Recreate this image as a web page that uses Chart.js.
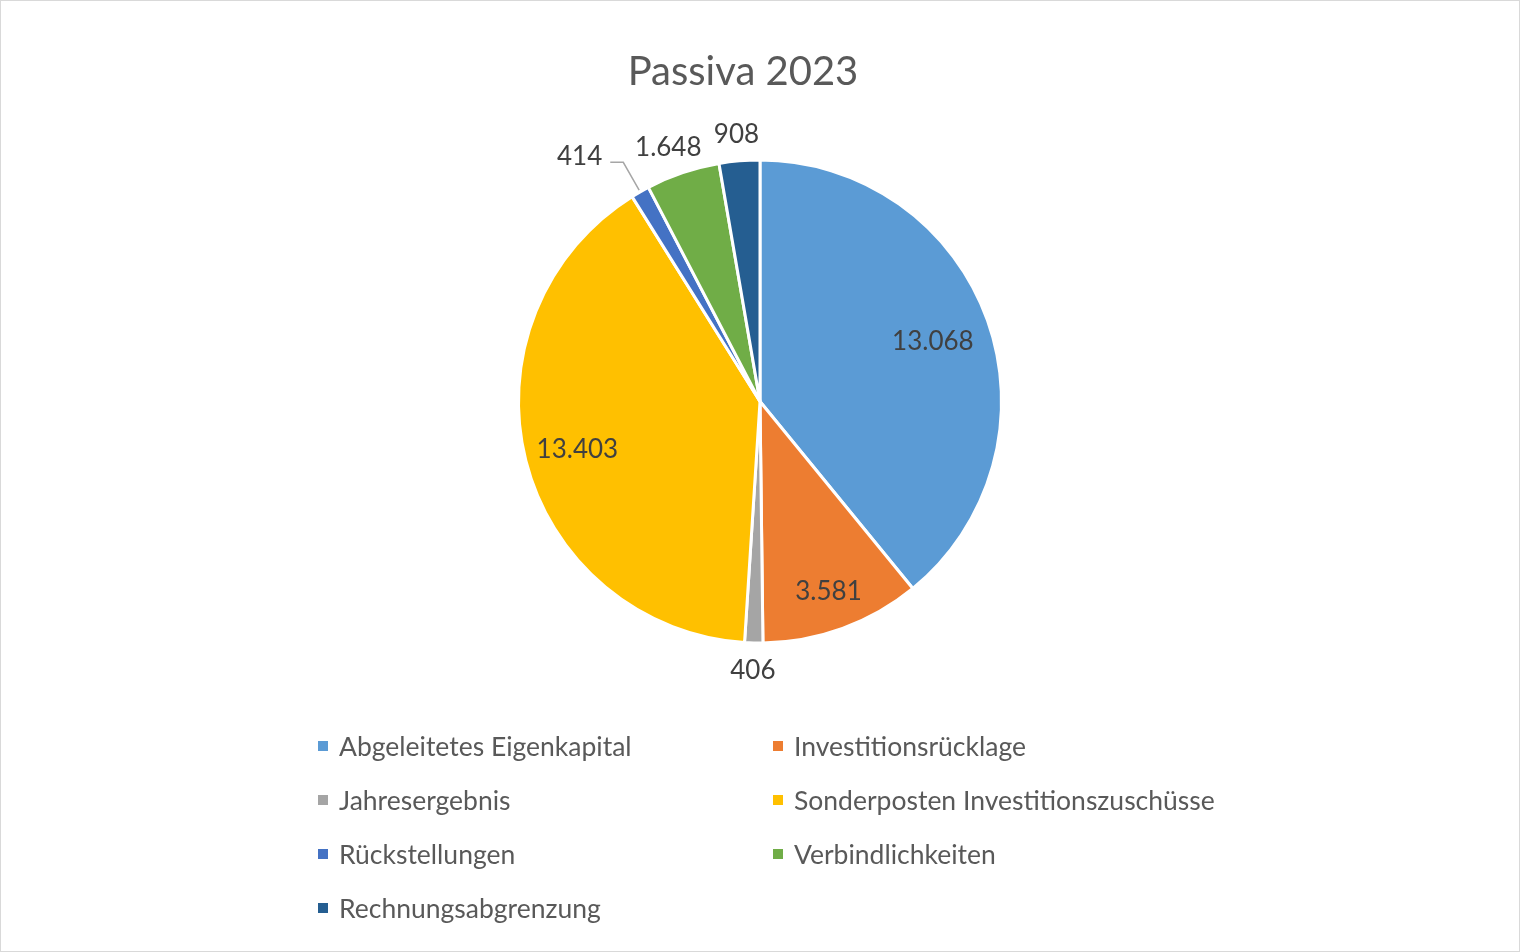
<!DOCTYPE html>
<html>
<head>
<meta charset="utf-8">
<script src="https://cdn.jsdelivr.net/npm/chart.js@4.4.1/dist/chart.umd.min.js"></script>
<style>
  body { margin: 0; background: #fff; }
  #wrap { position: relative; width: 1520px; height: 952px; font-family: Lato, "Open Sans", sans-serif; }
  #frame { position: absolute; left: 0; top: 0; width: 1520px; height: 952px; box-sizing: border-box; border: 1px solid #d9d9d9; pointer-events: none; }
  #title { position: absolute; left: 0; top: 46px; width: 1486px; height: 48px; line-height: 48px; text-align: center; color: #595959; font-size: 40px; }
  #legend { position: absolute; left: 318px; top: 726px; width: 950px; display: grid; grid-template-columns: 455px 495px; grid-auto-rows: 54px; color: #595959; font-size: 26.5px; }
  .item { display: flex; align-items: center; height: 40px; white-space: nowrap; }
  .box { width: 10px; height: 10px; margin-right: 11px; flex: none; }
</style>
</head>
<body>
<div id="wrap">
  <canvas id="pie" width="1520" height="952"></canvas>
  <div id="title">Passiva 2023</div>
  <div id="legend"></div>
  <div id="frame"></div>
</div>
<script>
const categories = [
  'Abgeleitetes Eigenkapital',
  'Investitionsrücklage',
  'Jahresergebnis',
  'Sonderposten Investitionszuschüsse',
  'Rückstellungen',
  'Verbindlichkeiten',
  'Rechnungsabgrenzung'
];
const values = [13068, 3581, 406, 13403, 414, 1648, 908];
const colors = ['#5B9BD5', '#ED7D31', '#A5A5A5', '#FFC000', '#4472C4', '#70AD47', '#255E91'];

// where each label goes: inside the slice, outside, or outside with a leader line
const labelPlace = ['in', 'in', 'out', 'in', 'leader', 'out', 'out'];
// radial position of inside labels, as a share of the radius
const labelDepth = [0.76, 0.83, 0, 0.78, 0, 0, 0];

function fmt(v) {
  return String(v).replace(/\B(?=(\d{3})+(?!\d))/g, '.');
}

const pieLabels = {
  id: 'pieLabels',
  afterDatasetsDraw(chart) {
    const ctx = chart.ctx;
    const arcs = chart.getDatasetMeta(0).data;
    ctx.save();
    ctx.font = '26px Lato, "Open Sans", sans-serif';
    ctx.fillStyle = '#404040';
    ctx.textBaseline = 'middle';
    arcs.forEach((arc, i) => {
      const p = arc.getProps(['x', 'y', 'startAngle', 'endAngle', 'outerRadius'], true);
      const mid = (p.startAngle + p.endAngle) / 2;
      const ux = Math.cos(mid), uy = Math.sin(mid);
      const text = fmt(values[i]);
      const w = ctx.measureText(text).width;
      const r = p.outerRadius;
      if (labelPlace[i] === 'in') {
        const k = labelDepth[i];
        ctx.textAlign = 'center';
        ctx.fillText(text, p.x + ux * r * k, p.y + uy * r * k + 2);
      } else if (labelPlace[i] === 'out') {
        const d = r + 12;
        ctx.textAlign = 'center';
        ctx.fillText(text, p.x + ux * d + ux * w / 2, p.y + uy * d + uy * 15 + 1);
      } else {
        const x1 = p.x + ux * (r + 2), y1 = p.y + uy * (r + 2);
        const x2 = p.x + ux * (r + 34), y2 = p.y + uy * (r + 34);
        const x3 = x2 - 13;
        ctx.strokeStyle = '#a6a6a6';
        ctx.lineWidth = 1.5;
        ctx.beginPath();
        ctx.moveTo(x1, y1);
        ctx.lineTo(x2, y2);
        ctx.lineTo(x3, y2);
        ctx.stroke();
        ctx.textAlign = 'right';
        ctx.fillText(text, x3 - 8, y2 - 6);
      }
    });
    ctx.restore();
  }
};

new Chart(document.getElementById('pie'), {
  type: 'pie',
  data: {
    labels: categories,
    datasets: [{
      data: values,
      backgroundColor: colors,
      borderColor: '#ffffff',
      borderWidth: 3,
      hoverOffset: 0
    }]
  },
  options: {
    responsive: false,
    animation: false,
    layout: { padding: { top: 158.5, bottom: 307.5, left: 0, right: 0 } },
    plugins: {
      legend: { display: false },
      tooltip: { enabled: false },
      title: { display: false }
    }
  },
  plugins: [pieLabels]
});

const legend = document.getElementById('legend');
categories.forEach((name, i) => {
  const item = document.createElement('div');
  item.className = 'item';
  const box = document.createElement('span');
  box.className = 'box';
  box.style.background = colors[i];
  item.appendChild(box);
  item.appendChild(document.createTextNode(name));
  legend.appendChild(item);
});
</script>
</body>
</html>
